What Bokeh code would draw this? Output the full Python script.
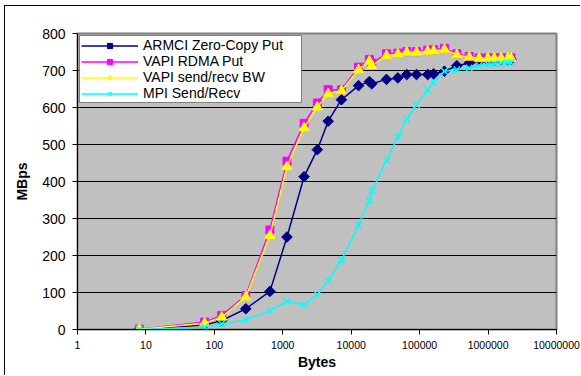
import math
from bokeh.plotting import figure
from bokeh.models import (Range1d, FixedTicker, CustomJSTickFormatter, Legend, LegendItem)
from bokeh.embed import file_html
from bokeh.resources import INLINE

# ---- data ----
bytes_sizes = [8, 72, 128, 288, 648, 1152, 2048, 3200, 4608, 7200, 12800, 18432, 20000,
               32768, 48000, 64800, 90000, 131072, 160000, 230000, 350000, 530000,
               740000, 990000, 1230000, 1550000, 1940000, 2160000]
armci_put = [1, 12, 24, 56, 103, 250, 413, 486, 563, 621, 659, 670, 664, 676, 680, 689,
             689, 689, 691, 698, 713, 720, 725, 728, 728, 729, 729, 730]
vapi_rdma = [1, 20, 38, 92, 269, 455, 557, 612, 648, 648, 709, 730, 720, 745, 747, 751,
             751, 755, 756, 760, 745, 738, 734, 734, 734, 734, 734, 734]
vapi_sendrecv = [1, 17, 33, 88, 254, 440, 545, 601, 637, 645, 702, 725, 713, 740, 744, 749,
                 749, 752, 753, 757, 742, 736, 733, 733, 733, 733, 733, 733]
mpi_sendrecv = [0, 6, 15, 26, 51, 76, 66, 95, 132, 187, 282, 348, 375, 457, 521, 569,
                607, 648, 668, 698, 702, 707, 713, 717, 718, 720, 721, 721]
series_names = ["ARMCI Zero-Copy Put", "VAPI RDMA Put", "VAPI send/recv BW", "MPI Send/Recv"]
x_ticks = [1, 10, 100, 1000, 10000, 100000, 1000000, 10000000]
y_ticks = [0, 100, 200, 300, 400, 500, 600, 700, 800]

FONT = "Liberation Sans"

p = figure(width=576, height=370, x_axis_type="log",
           x_range=Range1d(1, 1e7), y_range=Range1d(0, 800),
           output_backend="svg", toolbar_location=None,
           min_border_left=72, min_border_right=25, min_border_top=27, min_border_bottom=47,
           background_fill_color="#C0C0C0", border_fill_color="white",
           outline_line_color="#808080", outline_line_width=2,
           styles={"margin-left": "4px", "margin-top": "5px",
                   "border-left": "1px solid black", "border-top": "1px solid black"})

# axes
p.xaxis.ticker = FixedTicker(ticks=x_ticks, minor_ticks=[])
p.xaxis.formatter = CustomJSTickFormatter(code="return Math.round(tick).toString();")
p.yaxis.ticker = FixedTicker(ticks=y_ticks, minor_ticks=[])
for ax in (p.xaxis[0], p.yaxis[0]):
    ax.axis_line_color = "black"
    ax.axis_line_width = 1
    ax.major_tick_line_color = "black"
    ax.major_tick_in = 0
    ax.major_tick_out = 5
    ax.minor_tick_line_color = None
    ax.major_label_text_font = FONT
    ax.major_label_text_color = "black"
    ax.axis_label_text_font = FONT
    ax.axis_label_text_font_style = "bold"
    ax.axis_label_text_font_size = "14px"
    ax.axis_label_text_color = "black"

p.xaxis.axis_label = "Bytes"
p.xaxis.major_label_text_font_size = "10.5px"
p.xaxis.major_label_standoff = 6
p.xaxis.axis_label_standoff = 2
p.yaxis.axis_label = "MBps"
p.yaxis.major_label_text_font_size = "14px"
p.yaxis.major_label_standoff = 7
p.yaxis.axis_label_standoff = 9

p.xgrid.grid_line_color = None
p.ygrid.ticker = FixedTicker(ticks=y_ticks)
p.ygrid.grid_line_color = "black"
p.ygrid.grid_line_width = 1

# series
r1l = p.line(bytes_sizes, armci_put, line_color="#000080", line_width=1.5)
r1m = p.scatter(bytes_sizes, armci_put, marker="square", size=7.5, angle=math.pi / 4,
                fill_color="#000080", line_color="#000080")
r2l = p.line(bytes_sizes, vapi_rdma, line_color="#FF00FF", line_width=1.5)
r2m = p.scatter(bytes_sizes, vapi_rdma, marker="square", size=8,
                fill_color="#FF00FF", line_color="#FF00FF")
r3l = p.line(bytes_sizes, vapi_sendrecv, line_color="#FFFF00", line_width=1.5)
r3m = p.scatter(bytes_sizes, vapi_sendrecv, marker="triangle", size=10,
                fill_color="#FFFF00", line_color="#FFFF00")
r4l = p.line(bytes_sizes, mpi_sendrecv, line_color="#00FFFF", line_width=1.5)
r4m = p.scatter(bytes_sizes, mpi_sendrecv, marker="x", size=9,
                line_color="#00FFFF", line_width=1.5)

legend = Legend(items=[
    LegendItem(label=series_names[0], renderers=[r1l, r1m]),
    LegendItem(label=series_names[1], renderers=[r2l, r2m]),
    LegendItem(label=series_names[2], renderers=[r3l, r3m]),
    LegendItem(label=series_names[3], renderers=[r4l, r4m]),
], location="top_left", margin=2, padding=1, spacing=0,
   glyph_width=57, glyph_height=13, label_height=13, label_standoff=5, label_width=157,
   label_text_font=FONT, label_text_font_size="14px", label_text_color="black",
   border_line_color="black", border_line_width=1,
   background_fill_color="white", background_fill_alpha=1.0)
p.add_layout(legend)

open("out.html", "w").write(file_html(p, INLINE))
